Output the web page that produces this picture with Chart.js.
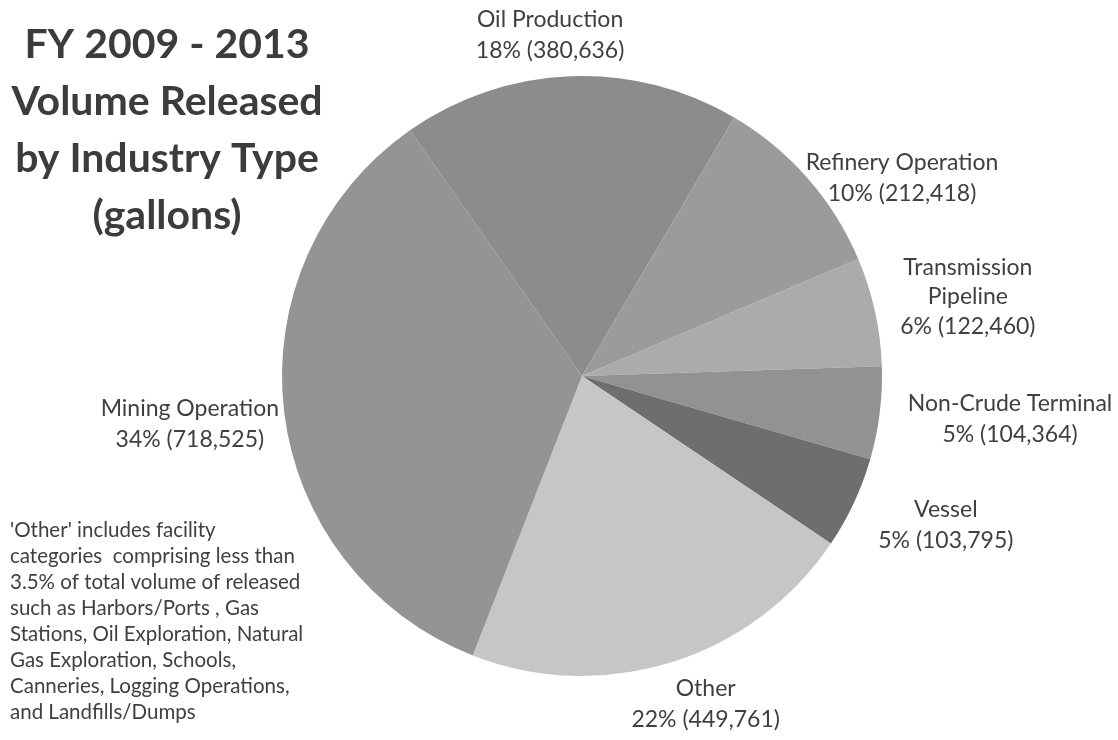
<!DOCTYPE html>
<html>
<head>
<meta charset="utf-8">
<script src="https://cdn.jsdelivr.net/npm/chart.js@4.4.0/dist/chart.umd.min.js"></script>
<style>
  html, body { margin: 0; padding: 0; background: #ffffff; }
  #wrap { width: 1118px; height: 740px; position: relative; }
</style>
</head>
<body>
<div id="wrap"><canvas id="c" width="1118" height="740"></canvas></div>
<script>
// ---- Data ----
const categories = ['Oil Production', 'Refinery Operation', 'Transmission Pipeline', 'Non-Crude Terminal', 'Vessel', 'Other', 'Mining Operation'];
const volumes = [380636, 212418, 122460, 104364, 103795, 449761, 718525];
const percents = [18, 10, 6, 5, 5, 22, 34];
const labelLines = [['Oil Production'], ['Refinery Operation'], ['Transmission', 'Pipeline'], ['Non-Crude Terminal'], ['Vessel'], ['Other'], ['Mining Operation']];
const sliceColors = ['#8c8c8c', '#9b9b9b', '#ababab', '#929292', '#6e6e6e', '#c6c6c6', '#949494'];
const titleLines = ['FY 2009 - 2013', 'Volume Released', 'by Industry Type', '(gallons)'];
const noteLines = ["'Other' includes facility", 'categories  comprising less than', '3.5% of total volume of released', 'such as Harbors/Ports , Gas', 'Stations, Oil Exploration, Natural', 'Gas Exploration, Schools,', 'Canneries, Logging Operations,', 'and Landfills/Dumps'];

// label placement: [radius factor, angle offset from slice middle (deg)]
const labelPlace = [[1.142, -3.1], [1.254, 9.5], [1.313, 0.8], [1.434, -1.4], [1.311, -2.7], [1.169, -3.3], [1.317, -0.2]];

const fmt = n => n.toLocaleString('en-US');
const FONT = 'Lato, "Open Sans", sans-serif';

const textPlugin = {
  id: 'texts',
  afterDraw(chart) {
    const ctx = chart.ctx;
    ctx.save();
    // Title
    ctx.fillStyle = '#3c3c3c';
    ctx.font = 'bold 41px ' + FONT;
    ctx.textAlign = 'center';
    ctx.textBaseline = 'middle';
    titleLines.forEach((t, i) => ctx.fillText(t, 167, 45 + i * 57));
    // Note
    ctx.fillStyle = '#404040';
    ctx.font = '20.5px ' + FONT;
    ctx.textAlign = 'left';
    noteLines.forEach((t, i) => ctx.fillText(t, 10, 530 + i * 26));
    // Data labels
    const meta = chart.getDatasetMeta(0);
    ctx.font = '23px ' + FONT;
    ctx.textAlign = 'center';
    meta.data.forEach((arc, i) => {
      const p = arc.getProps(['x', 'y', 'startAngle', 'endAngle', 'outerRadius'], true);
      const mid = (p.startAngle + p.endAngle) / 2 + labelPlace[i][1] * Math.PI / 180;
      const r = p.outerRadius * labelPlace[i][0];
      const cx = p.x + Math.cos(mid) * r;
      const cy = p.y + Math.sin(mid) * r;
      const lines = labelLines[i].concat([percents[i] + '% (' + fmt(volumes[i]) + ')']);
      const lh = lines.length > 2 ? 29.5 : 31;
      const y0 = cy - (lines.length - 1) * lh / 2;
      lines.forEach((t, k) => ctx.fillText(t, cx, y0 + k * lh));
    });
    ctx.restore();
  }
};

new Chart(document.getElementById('c'), {
  type: 'pie',
  data: {
    labels: categories,
    datasets: [{
      data: volumes,
      backgroundColor: sliceColors,
      borderWidth: 0
    }]
  },
  options: {
    responsive: false,
    animation: false,
    rotation: -35,
    layout: { padding: { left: 282, right: 236, top: 76, bottom: 64 } },
    plugins: {
      legend: { display: false },
      tooltip: { enabled: false },
      title: { display: false }
    }
  },
  plugins: [textPlugin]
});
</script>
</body>
</html>
